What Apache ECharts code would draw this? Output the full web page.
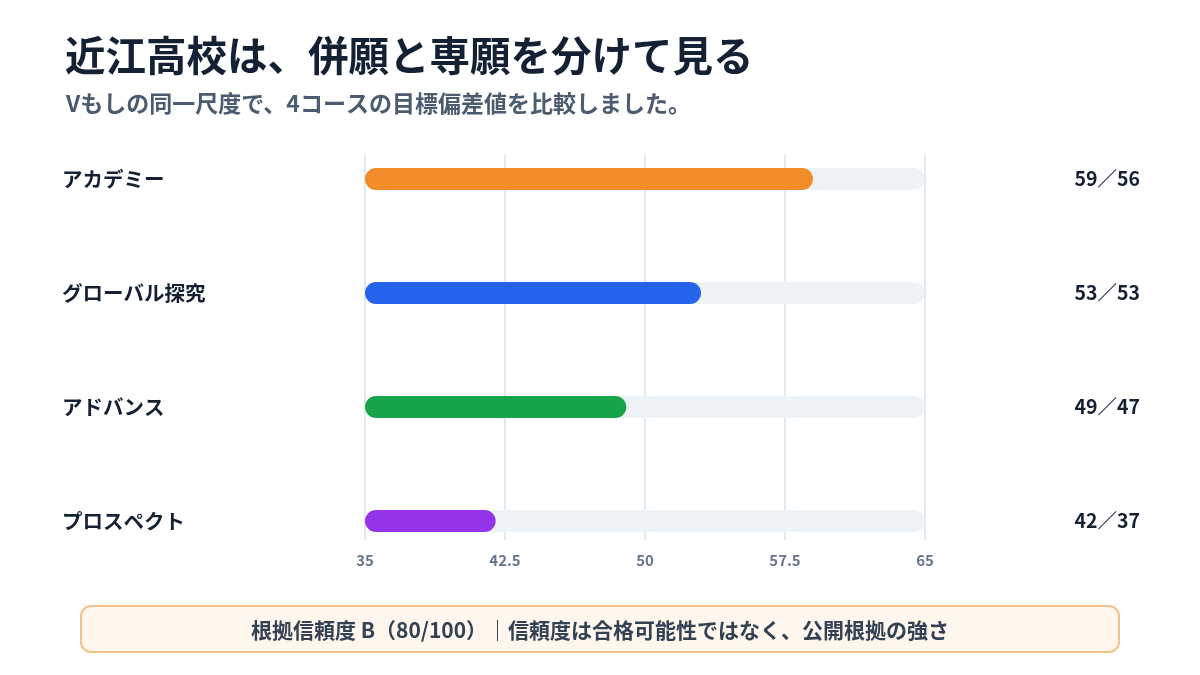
<!DOCTYPE html>
<html>
<head>
<meta charset="utf-8">
<script src="https://cdn.jsdelivr.net/npm/echarts@6/dist/echarts.min.js"></script>
<style>
  html, body { margin: 0; padding: 0; background: #fff; }
  #chart { width: 1200px; height: 675px; }
</style>
</head>
<body>
<div id="chart"></div>
<script>
// コース名と偏差値（併願／専願）
const courses = ['アカデミー', 'グローバル探究', 'アドバンス', 'プロスペクト']
const heigan = [59, 53, 49, 42]
const sengan = [56, 53, 47, 37]
const barColors = ['#f28c28', '#2563eb', '#16a34a', '#9333ea']
const axisMin = 35
const axisMax = 65
const axisStep = 7.5

const font = '"Noto Sans CJK JP", "Noto Sans", sans-serif'
const chart = echarts.init(document.getElementById('chart'))

chart.setOption({
  animation: false,
  textStyle: { fontFamily: font },
  title: [
    {
      text: '近江高校は、併願と専願を分けて見る',
      left: 60, top: 30,
      textStyle: { fontSize: 40.5, fontWeight: 'bold', color: '#142033', fontFamily: font }
    },
    {
      text: 'Vもしの同一尺度で、4コースの目標偏差値を比較しました。',
      left: 61, top: 87,
      textStyle: { fontSize: 23, fontWeight: 'bold', color: '#4b5b70', fontFamily: font }
    }
  ],
  grid: [
    // 目盛り線用
    { left: 365, right: 275, top: 155, bottom: 135 },
    // バー用
    { left: 365, right: 275, top: 122, bottom: 97 }
  ],
  xAxis: [
    {
      gridIndex: 0, type: 'value', min: axisMin, max: axisMax, interval: axisStep,
      axisLine: { show: false }, axisTick: { show: false },
      splitLine: { lineStyle: { color: '#e2e8f0', width: 2 } },
      axisLabel: { color: '#64748b', fontSize: 15, fontWeight: 'bold', margin: 13, fontFamily: font }
    },
    {
      gridIndex: 1, type: 'value', min: axisMin, max: axisMax, startValue: axisMin,
      show: false
    }
  ],
  yAxis: [
    { gridIndex: 0, type: 'category', data: courses, show: false },
    {
      gridIndex: 1, type: 'category', data: courses, inverse: true,
      axisLine: { show: false }, axisTick: { show: false },
      axisLabel: {
        align: 'left', margin: 303, fontSize: 20.5, fontWeight: 'bold',
        color: '#142033', fontFamily: font
      }
    },
    {
      gridIndex: 1, type: 'category', data: courses, inverse: true, position: 'right',
      axisLine: { show: false }, axisTick: { show: false },
      axisLabel: {
        align: 'right', margin: 215, fontSize: 19.5, fontWeight: 'bold',
        color: '#142033', fontFamily: font,
        formatter: (v, i) => heigan[i] + '／' + sengan[i]
      }
    }
  ],
  series: [
    {
      type: 'bar',
      xAxisIndex: 1, yAxisIndex: 1,
      barWidth: 22,
      data: heigan.map((v, i) => ({ value: v, itemStyle: { color: barColors[i] } })),
      itemStyle: { borderRadius: 11 },
      showBackground: true,
      backgroundStyle: { color: '#edf2f7', borderRadius: 11 }
    }
  ],
  graphic: [
    {
      type: 'rect',
      shape: { x: 81, y: 606, width: 1038, height: 46, r: 10 },
      style: { fill: '#fff7ed', stroke: '#f5c18a', lineWidth: 2 }
    },
    {
      type: 'text',
      x: 600, y: 630,
      style: {
        text: '根拠信頼度 B（80/100）｜信頼度は合格可能性ではなく、公開根拠の強さ',
        align: 'center', verticalAlign: 'middle',
        fontSize: 21, fontWeight: 'bold', fill: '#334155', fontFamily: font
      }
    }
  ]
})
</script>
</body>
</html>
